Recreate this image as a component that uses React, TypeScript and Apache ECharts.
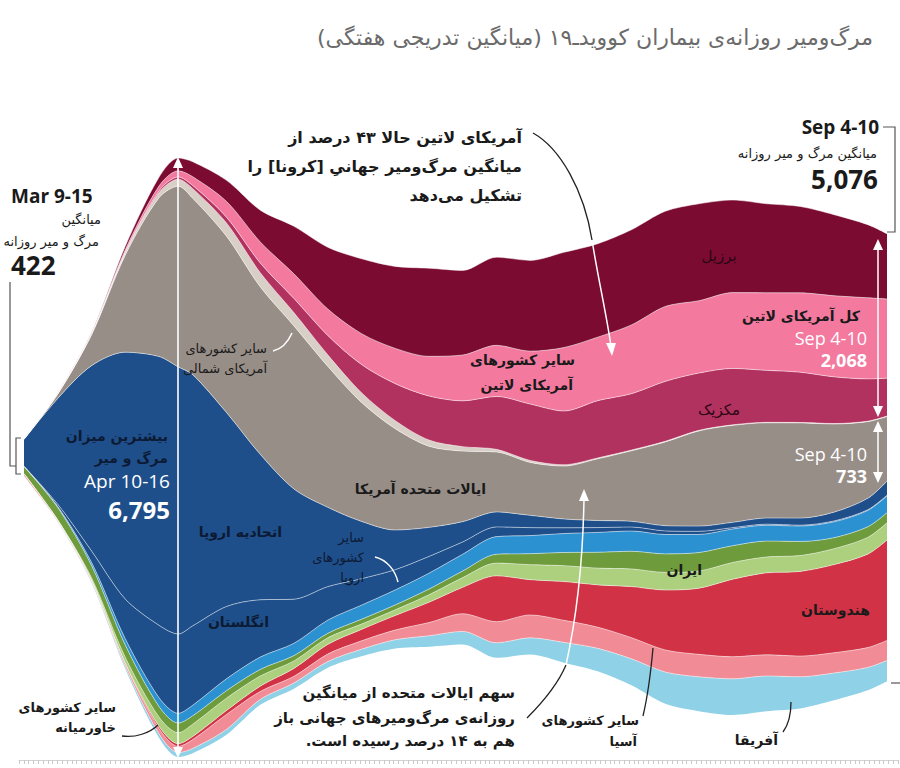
import React, { useEffect, useRef } from "react";
import * as echarts from "echarts";

// day offsets from Mar 12 (centre of the Mar 9-15 week) to Sep 7 (centre of Sep 4-10)
const days = [0, 7, 14, 21, 28, 32, 35, 42, 49, 56, 63, 70, 77, 84, 91, 98, 105, 112, 119, 126, 133, 140, 147, 154, 161, 168, 175, 179];

// daily deaths, weekly rolling average, by region
const africa = [1, 3, 10, 25, 45, 50, 55, 60, 62, 65, 70, 80, 100, 125, 150, 170, 190, 230, 260, 300, 360, 390, 410, 400, 360, 310, 260, 235];
const otherAsia = [25, 12, 15, 30, 60, 70, 100, 170, 90, 75, 85, 95, 110, 150, 200, 240, 260, 250, 240, 240, 250, 255, 250, 240, 235, 230, 225, 228];
const india = [0, 1, 3, 10, 25, 30, 35, 45, 60, 90, 110, 130, 165, 230, 300, 520, 400, 440, 480, 580, 680, 750, 880, 930, 960, 1000, 1060, 1139];
const otherMiddleEast = [2, 5, 25, 65, 105, 125, 140, 140, 115, 85, 75, 60, 65, 85, 110, 145, 170, 180, 190, 200, 200, 195, 190, 180, 180, 180, 190, 195];
const iran = [80, 140, 140, 140, 120, 110, 95, 85, 75, 60, 50, 55, 55, 65, 75, 100, 125, 150, 180, 200, 210, 210, 190, 180, 160, 125, 120, 115];
const otherEurope = [3, 12, 35, 70, 100, 110, 120, 135, 140, 140, 150, 160, 170, 180, 190, 200, 205, 215, 225, 230, 220, 205, 190, 180, 175, 180, 185, 190];
const uk = [2, 25, 130, 450, 820, 900, 900, 820, 650, 500, 380, 300, 230, 190, 140, 110, 90, 65, 55, 45, 40, 35, 15, 12, 10, 10, 8, 8];
const eu = [302, 1200, 2100, 2800, 3050, 3030, 2850, 2200, 1650, 1250, 900, 650, 450, 330, 230, 170, 140, 100, 80, 65, 60, 60, 60, 70, 80, 100, 130, 160];
const usa = [5, 50, 350, 1100, 1800, 2050, 2000, 2000, 1900, 1850, 1600, 1350, 1150, 920, 800, 680, 600, 600, 700, 800, 950, 1080, 1100, 1080, 1080, 1000, 870, 733];
const otherNorthAmerica = [1, 2, 8, 30, 60, 80, 110, 150, 160, 150, 130, 110, 90, 70, 50, 30, 22, 15, 10, 8, 7, 6, 6, 5, 5, 5, 5, 5];
const mexico = [0, 1, 2, 6, 18, 25, 35, 65, 110, 160, 220, 320, 420, 500, 520, 600, 640, 610, 650, 640, 680, 650, 640, 590, 570, 530, 480, 430];
const otherLatinAmerica = [1, 3, 8, 25, 55, 70, 100, 180, 240, 280, 300, 350, 400, 450, 520, 580, 600, 720, 720, 780, 850, 820, 860, 880, 900, 920, 920, 898];
const brazil = [0, 2, 8, 40, 100, 145, 170, 240, 360, 540, 700, 850, 930, 1000, 960, 1000, 1030, 1080, 1060, 1080, 1080, 1100, 1050, 1010, 980, 920, 830, 740];

const layers = [
  { name: "آفریقا", data: africa, color: "#8fd1e7" },
  { name: "سایر کشورهای آسیا", data: otherAsia, color: "#f18b95" },
  { name: "هندوستان", data: india, color: "#d13245" },
  { name: "سایر کشورهای خاورمیانه", data: otherMiddleEast, color: "#acd07d" },
  { name: "ایران", data: iran, color: "#6e9b3b" },
  { name: "سایر کشورهای اروپا", data: otherEurope, color: "#2b91d1" },
  { name: "انگلستان", data: uk, color: "#1e4f8b" },
  { name: "اتحادیه اروپا", data: eu, color: "#1e4f8b" },
  { name: "ایالات متحده آمریکا", data: usa, color: "#988e88" },
  { name: "سایر کشورهای آمریکای شمالی", data: otherNorthAmerica, color: "#d8cfc6" },
  { name: "مکزیک", data: mexico, color: "#b2325f" },
  { name: "سایر کشورهای آمریکای لاتین", data: otherLatinAmerica, color: "#f3799f" },
  { name: "برزیل", data: brazil, color: "#7b0b31" },
];

const DAY = 86400000;
const START = Date.UTC(2020, 2, 12);

const FA = "DejaVu Sans";
const LA = "Open Sans";
const rtl = (s: string) => "\u202B" + s + "\u202C";

function txt(text: string, x: number, y: number, o: any = {}) {
  return {
    type: "text",
    x,
    y,
    z: 100,
    silent: true,
    style: {
      text: o.latin ? text : rtl(text),
      fill: o.fill || "#1a1a1a",
      fontSize: o.size || 14,
      fontWeight: o.bold ? "bold" : "normal",
      fontFamily: o.latin ? LA : FA,
      textAlign: o.align || "right",
      textVerticalAlign: "middle",
    },
  };
}

function line(points: number[][], stroke: string, w = 1.2) {
  return { type: "polyline", z: 100, silent: true, shape: { points }, style: { stroke, lineWidth: w, fill: null } };
}

function curve(p: number[], stroke: string, w = 1.3) {
  return {
    type: "bezierCurve",
    z: 100,
    silent: true,
    shape: { x1: p[0], y1: p[1], cpx1: p[2], cpy1: p[3], cpx2: p[4], cpy2: p[5], x2: p[6], y2: p[7] },
    style: { stroke, lineWidth: w, fill: null },
  };
}

function head(points: number[][], fill: string) {
  return { type: "polygon", z: 100, silent: true, shape: { points }, style: { fill } };
}

export default function App() {
  const ref = useRef<HTMLDivElement>(null);

  useEffect(() => {
    const chart = echarts.init(ref.current!, null, { renderer: "svg" });
    const totals = days.map((_, i) => layers.reduce((s, l) => s + l.data[i], 0));
    const maxTotal = Math.max(...totals);
    const base = totals.map((t) => (maxTotal - t) / 2);
    const tOf = (d: number) => START + d * DAY;

    const series: any[] = [
      {
        type: "line",
        name: "base",
        stack: "all",
        data: days.map((d, i) => [tOf(d), base[i]]),
        smooth: 0.3,
        symbol: "none",
        lineStyle: { width: 0, opacity: 0 },
        silent: true,
      },
      ...layers.map((l) => ({
        type: "line",
        name: l.name,
        stack: "all",
        data: days.map((d, i) => [tOf(d), l.data[i]]),
        smooth: 0.3,
        symbol: "none",
        lineStyle: { width: 0.9, color: "rgba(255,255,255,0.55)" },
        areaStyle: { color: l.color, opacity: 1 },
        silent: true,
      })),
    ];

    const W = "#ffffff";
    const D = "#222222";
    const graphic: any[] = [
      // title
      txt("مرگ‌ومیر روزانه‌ی بیماران کوویدـ۱۹ (میانگین تدریجی هفتگی)", 873, 37, { size: 22, fill: "#6b6b6b" }),
      // left block
      txt("Mar 9-15", 11, 196, { latin: true, bold: true, size: 19, align: "left", fill: "#1a1a1a" }),
      txt("میانگین", 101, 219, { size: 13 }),
      txt("مرگ و میر روزانه", 99, 241, { size: 13 }),
      txt("422", 11, 265, { latin: true, bold: true, size: 26, align: "left" }),
      line([[10, 282], [10, 466], [16, 466]], "#555", 1.2),
      line([[21, 438], [16, 438], [16, 474], [21, 474]], "#555", 1.2),
      // peak block
      txt("بیشترین میزان", 168, 436, { size: 14, bold: true, fill: "#0c1a33" }),
      txt("مرگ و میر", 168, 458, { size: 14, bold: true, fill: "#0c1a33" }),
      txt("Apr 10-16", 170, 481, { latin: true, size: 19, fill: W }),
      txt("6,795", 170, 509, { latin: true, bold: true, size: 24, fill: W }),
      // central white double arrow
      line([[178, 163], [178, 752]], W, 1.6),
      head([[173, 168], [183, 168], [178, 157]], W),
      head([[173, 747], [183, 747], [178, 758]], W),
      // top annotation
      txt("آمریکای لاتین حالا ۴۳ درصد از", 522, 137, { size: 16, bold: true }),
      txt("میانگین مرگ‌ومیر جهانیِ [کرونا] را", 522, 166, { size: 16, bold: true }),
      txt("تشکیل می‌دهد", 522, 195, { size: 16, bold: true }),
      curve([533, 133, 560, 148, 584, 190, 592, 240], D, 1.3),
      curve([592, 240, 598, 278, 606, 312, 611, 346], W, 1.5),
      head([[606, 343], [616, 343], [612, 356]], W),
      // top right block
      txt("Sep 4-10", 879, 127, { latin: true, bold: true, size: 19 }),
      txt("میانگین مرگ و میر روزانه", 877, 153, { size: 13 }),
      txt("5,076", 878, 179, { latin: true, bold: true, size: 26 }),
      line([[883, 127], [895, 127], [895, 232], [887, 232]], "#555", 1.2),
      line([[891, 683], [900, 683]], "#555", 1.2),
      // right arrows
      line([[878, 246], [878, 410]], W, 1.5),
      head([[873, 250], [883, 250], [878, 239]], W),
      head([[873, 406], [883, 406], [878, 417]], W),
      line([[878, 428], [878, 476]], W, 1.5),
      head([[873, 432], [883, 432], [878, 421]], W),
      head([[873, 472], [883, 472], [878, 483]], W),
      // region labels
      txt("برزیل", 719, 256, { size: 15, fill: "#2a0512", align: "center" }),
      txt("کل آمریکای لاتین", 860, 316, { size: 14, bold: true }),
      txt("Sep 4-10", 867, 338, { latin: true, size: 18, fill: W }),
      txt("2,068", 867, 360, { latin: true, bold: true, size: 18, fill: W }),
      txt("مکزیک", 719, 410, { size: 15, fill: "#2a0512", align: "center" }),
      txt("Sep 4-10", 867, 454, { latin: true, size: 18, fill: W }),
      txt("733", 867, 476, { latin: true, bold: true, size: 18, fill: W }),
      txt("سایر کشورهای", 575, 360, { size: 14, bold: true }),
      txt("آمریکای لاتین", 573, 385, { size: 14, bold: true }),
      txt("سایر کشورهای", 267, 348, { size: 13 }),
      txt("آمریکای شمالی", 267, 368, { size: 13 }),
      curve([273, 351, 282, 349, 288, 342, 292, 333], W, 1.5),
      txt("ایالات متحده آمریکا", 486, 489, { size: 14, bold: true }),
      txt("اتحادیه اروپا", 282, 532, { size: 14, bold: true, fill: "#0c1a33" }),
      txt("انگلستان", 269, 622, { size: 14, bold: true, fill: "#0c1a33" }),
      txt("سایر", 364, 537, { size: 13, fill: "#0c1a33" }),
      txt("کشورهای", 364, 557, { size: 13, fill: "#0c1a33" }),
      txt("اروپا", 364, 577, { size: 13, fill: "#0c1a33" }),
      curve([375, 557, 387, 560, 395, 570, 398, 582], W, 1.5),
      txt("ایران", 702, 570, { size: 14, bold: true }),
      txt("هندوستان", 870, 610, { size: 14, bold: true }),
      txt("سایر کشورهای", 639, 720, { size: 13, bold: true }),
      txt("آسیا", 637, 741, { size: 13, bold: true }),
      curve([643, 716, 648, 695, 651, 670, 653, 648], D, 1.3),
      txt("آفریقا", 778, 740, { size: 14, bold: true }),
      curve([783, 732, 789, 724, 791, 714, 791, 702], D, 1.3),
      txt("سایر کشورهای", 116, 707, { size: 13, bold: true }),
      txt("خاورمیانه", 116, 727, { size: 13, bold: true }),
      curve([122, 736, 135, 738, 150, 733, 158, 725], D, 1.3),
      // bottom annotation
      txt("سهم ایالات متحده از میانگین", 515, 693, { size: 15, bold: true }),
      txt("روزانه‌ی مرگ‌ومیرهای جهانی باز", 515, 718, { size: 15, bold: true }),
      txt("هم به ۱۴ درصد رسیده است.", 515, 741, { size: 15, bold: true }),
      curve([527, 718, 545, 700, 558, 684, 566, 665], D, 1.3),
      curve([566, 665, 576, 620, 583, 560, 584, 498], W, 1.5),
      head([[579, 501], [589, 501], [584, 489]], W),
    ];

    chart.setOption({
      animation: false,
      grid: [
        { left: 24, right: 13, top: 158, bottom: 11 },
        { left: 19, right: 2, top: 757, bottom: 8 },
      ],
      xAxis: [
        { type: "time", gridIndex: 0, min: tOf(0), max: tOf(179), show: false },
        {
          type: "value",
          gridIndex: 1,
          min: 0,
          max: 183,
          interval: 1,
          position: "bottom",
          axisLine: { show: true, lineStyle: { color: "#d3d3d3", width: 1 } },
          axisTick: { show: true, length: 4, lineStyle: { color: "#c9c9c9", width: 1 } },
          axisLabel: { show: false },
          splitLine: { show: false },
        },
      ],
      yAxis: [
        { type: "value", gridIndex: 0, min: 0, max: maxTotal, show: false },
        { type: "value", gridIndex: 1, min: 0, max: 1, show: false },
      ],
      series,
      graphic,
    });

    return () => chart.dispose();
  }, []);

  return <div ref={ref} style={{ position: "fixed", left: 0, top: 0, width: 900, height: 768, background: "#fff" }} />;
}
